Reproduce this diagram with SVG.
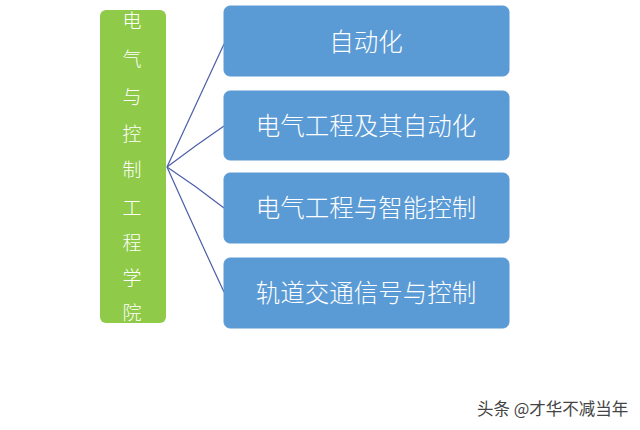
<svg xmlns="http://www.w3.org/2000/svg" width="640" height="430" viewBox="0 0 640 430">
<style>
.cn{font-family:"Noto Sans CJK SC","Liberation Sans",sans-serif;fill:#fff;font-weight:300}
.box{fill:#5b9bd5;stroke:#5b9bd5}
.lbl{font-size:24.5px;text-anchor:middle;dominant-baseline:central}
.v{font-size:19px;text-anchor:middle;dominant-baseline:central}
.ln{stroke:#4a5ea8;stroke-width:1.2;fill:none}
</style>
<rect width="640" height="430" fill="#fff"/>
<g id="root">
<rect x="100" y="10" width="66" height="313" rx="6" fill="#8fca48"/>
<text class="cn v" x="132" y="19">电</text>
<text class="cn v" x="132" y="57">气</text>
<text class="cn v" x="132" y="95">与</text>
<text class="cn v" x="132" y="132">控</text>
<text class="cn v" x="132" y="168">制</text>
<text class="cn v" x="132" y="206">工</text>
<text class="cn v" x="132" y="241">程</text>
<text class="cn v" x="132" y="276">学</text>
<text class="cn v" x="132" y="311">院</text>
</g>
<g id="connectors">
<path class="ln" d="M167,167 Q197,102 224,44"/>
<path class="ln" d="M167,167 Q196,145 224,126"/>
<path class="ln" d="M167,167 Q196,186 224,208"/>
<path class="ln" d="M167,167 Q196,232 224,292"/>
</g>
<g id="n1"><rect class="box" x="224" y="6" width="285" height="70" rx="6"/><text class="cn lbl" x="366" y="40">自动化</text></g>
<g id="n2"><rect class="box" x="224" y="91" width="285" height="69" rx="6"/><text class="cn lbl" x="366" y="124">电气工程及其自动化</text></g>
<g id="n3"><rect class="box" x="224" y="173" width="285" height="70" rx="6"/><text class="cn lbl" x="366" y="206">电气工程与智能控制</text></g>
<g id="n4"><rect class="box" x="224" y="258" width="285" height="70" rx="6"/><text class="cn lbl" x="366" y="291">轨道交通信号与控制</text></g>
<text x="477" y="415" font-family="Noto Sans CJK SC,Liberation Sans,sans-serif" font-size="16.5" fill="#444">头条 @才华不减当年</text>
</svg>
